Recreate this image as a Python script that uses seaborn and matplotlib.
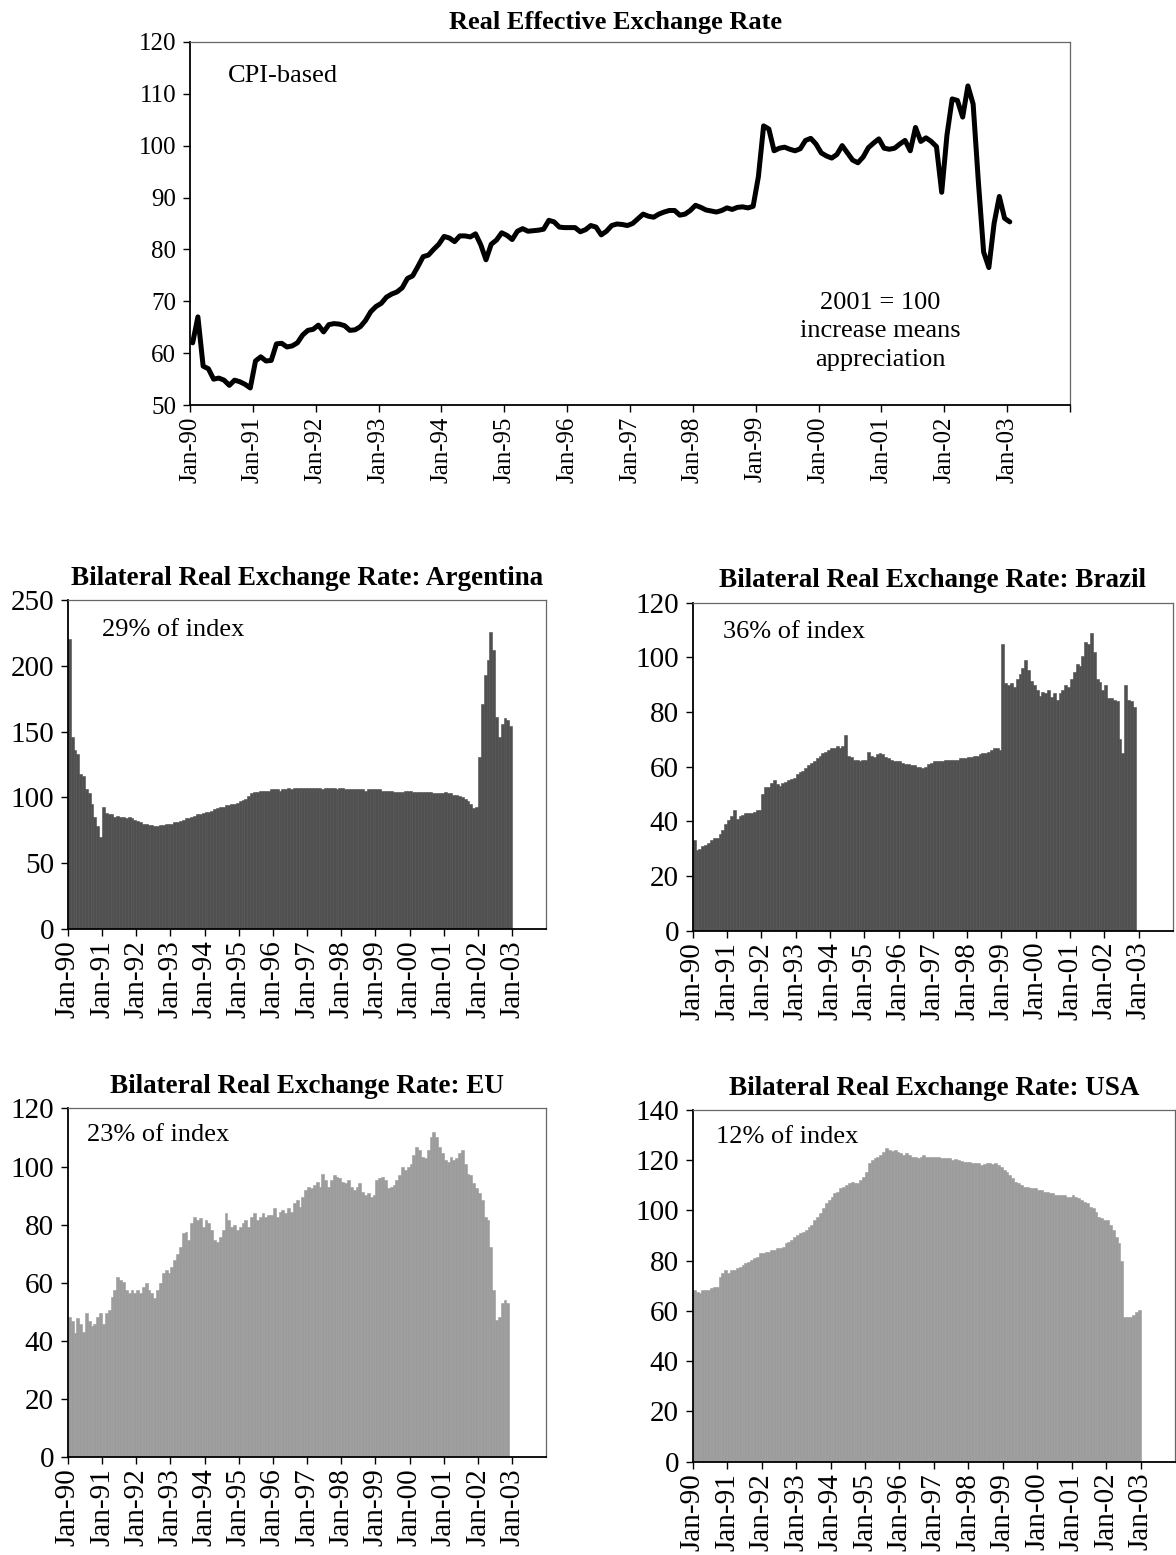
import numpy as np
import pandas as pd
import seaborn as sns
import matplotlib
matplotlib.use("Agg")
import matplotlib.pyplot as plt

# monthly data, Jan-90 onwards
reer = [62, 67, 57.5, 57, 55, 55.2, 54.8, 53.8, 54.8, 54.5, 54, 53.3,
        58.5, 59.3, 58.5, 58.6, 61.8, 61.9, 61.2, 61.4, 62, 63.5, 64.4, 64.6,
        65.4, 64.1, 65.5, 65.7, 65.6, 65.3, 64.4, 64.5, 65.1, 66.3, 68, 69,
        69.6, 70.8, 71.4, 71.8, 72.6, 74.4, 74.9, 76.7, 78.6, 78.9, 80, 81,
        82.5, 82.2, 81.5, 82.6, 82.6, 82.4, 83, 80.9, 78, 81, 81.8, 83.2,
        82.7, 81.9, 83.5, 84, 83.5, 83.6, 83.7, 83.9, 85.6, 85.3, 84.3, 84.2,
        84.2, 84.2, 83.4, 83.8, 84.6, 84.3, 82.8, 83.5, 84.6, 84.9, 84.8, 84.6,
        85, 85.9, 86.8, 86.4, 86.2, 86.8, 87.2, 87.5, 87.5, 86.6, 86.8, 87.5,
        88.5, 88.1, 87.6, 87.4, 87.2, 87.5, 88, 87.7, 88.1, 88.2, 88, 88.3,
        94, 103.8, 103.2, 99, 99.5, 99.7, 99.3, 99, 99.4, 101, 101.4, 100.3,
        98.6, 98, 97.6, 98.3, 100, 98.6, 97.2, 96.7, 97.8, 99.6, 100.5, 101.3,
        99.5, 99.3, 99.5, 100.3, 101, 99, 103.5, 100.8, 101.5, 100.8, 99.8, 91,
        102, 109, 108.7, 105.5, 111.5, 108, 93, 79.5, 76.5, 85, 90.2, 86,
        85.3]

argentina = [220, 146, 136, 133, 118, 116, 106, 103, 95, 85, 78, 70,
             93, 88, 87, 87, 85, 86, 85, 85, 84, 85, 84, 83,
             82, 81, 80, 80, 79, 79, 78, 78, 79, 79, 80, 80,
             80, 81, 81, 82, 83, 84, 84, 85, 86, 87, 87, 88,
             89, 89, 90, 91, 92, 93, 93, 94, 94, 95, 95, 96,
             97, 98, 99, 101, 103, 104, 104, 105, 105, 105, 105, 106,
             106, 106, 105, 106, 106, 107, 106, 107, 107, 107, 107, 107,
             107, 107, 107, 107, 107, 106, 107, 107, 107, 107, 106, 107,
             107, 106, 106, 106, 106, 106, 106, 106, 105, 106, 106, 106,
             106, 106, 105, 105, 105, 105, 104, 104, 104, 104, 105, 105,
             105, 104, 104, 104, 104, 104, 104, 104, 103, 103, 103, 103,
             104, 103, 103, 102, 102, 101, 100, 99, 97, 95, 92, 93,
             131, 171, 193, 204, 226, 212, 161, 146, 156, 160, 159, 154]

brazil = [33, 29.5, 30, 31, 31.5, 32, 33, 34, 34, 35.5, 37, 39,
          40.5, 42, 44, 41, 42, 42.5, 43, 43, 43, 43.5, 44, 44,
          50, 52.5, 52.5, 54, 55, 53.5, 53, 54, 54.5, 55, 55.5, 56,
          57.5, 58, 58.5, 59.5, 60.5, 61.5, 62, 63, 64, 65, 65.5, 66,
          67, 67, 67.5, 67, 67.5, 71.5, 64, 63.5, 62.5, 62.5, 62, 62.5,
          62.4, 65.5, 64, 63.5, 64.5, 65, 64.5, 63.5, 63, 62.5, 62, 62,
          62, 61.5, 61, 61, 60.5, 60.5, 60, 60, 59.5, 60, 61, 61.5,
          62, 62, 62, 62, 62.5, 62.5, 62.5, 62.5, 62.5, 63, 63, 63,
          63.5, 63.5, 64, 64, 64.5, 65, 65, 65.5, 66, 67, 67, 66,
          105, 90.5, 90, 90.5, 89, 92, 94, 96, 99, 95.5, 91.5, 90,
          88, 86, 87.5, 87, 88, 85.5, 87, 84.5, 87, 88, 90, 89,
          92, 94.5, 97.5, 97, 100.5, 105.5, 105, 109, 102, 92, 91, 88,
          90, 85, 85, 84.5, 84, 70, 65, 90, 84.5, 84, 82]

eu = [48.4, 47, 42.6, 47.8, 46, 43, 49.5, 47, 45, 46, 48.4, 49.5,
      46, 49.5, 50.7, 55, 57.5, 62, 61, 60.4, 57.5, 56.4, 57.5, 56.4,
      57.5, 56.4, 58.7, 59.8, 57.5, 56.4, 54.7, 57.5, 59.8, 63.3, 64.4, 63.3,
      65.6, 67.9, 70.1, 72.4, 77, 77.6, 74.7, 80.5, 82.7, 81.6, 82.2, 79.3,
      81.6, 80.5, 78.2, 74.7, 74.2, 75.9, 78.2, 83.9, 81.6, 79.3, 79.9, 78.2,
      79.3, 80.5, 81.6, 79.3, 82.7, 83.9, 81.6, 82.7, 83.9, 82.7, 83.3, 83.3,
      85.6, 82.7, 84.5, 85, 84, 85.6, 84.5, 87.3, 88.5, 86.2, 89.6, 91.9,
      93, 92.5, 93.6, 94.8, 93, 97.6, 95.4, 93, 95.4, 97, 96.5, 95.9,
      94.8, 94.2, 95.4, 93, 91.9, 93, 94.2, 91.3, 90.2, 90.8, 89.6, 90.2,
      95.4, 95.9, 96.5, 95.4, 92.5, 93, 93.6, 95.4, 97, 99.9, 98.8, 99.9,
      101, 104, 106.8, 105.7, 103.4, 102.8, 105.7, 110.3, 112, 110.3, 106.8, 104.5,
      102.2, 101.7, 103.4, 102.2, 102.8, 104.5, 105.7, 101, 97.6, 97, 94.2, 92.5,
      90.8, 88.5, 82.7, 81.6, 72.4, 57.5, 47.2, 48.4, 53, 54.1, 53]

usa = [68.3, 67.7, 67, 68.3, 68.3, 68.3, 69, 69.7, 69.7, 73.6, 75, 76.3,
       75, 76.3, 76.3, 77, 77.6, 78.3, 79, 79.6, 80.3, 81, 81.6, 83,
       83, 83.6, 83.6, 84.3, 84.3, 85, 85, 85.6, 86.9, 87.6, 88.2, 89.6,
       90.2, 90.9, 91.6, 92.2, 93.5, 94.2, 96.2, 97.5, 98.9, 100.8, 102.8, 104.2,
       105.5, 106.8, 107.5, 108.8, 109.5, 110.1, 110.8, 111.5, 110.8, 110.8, 112.1, 113.5,
       115.4, 118.8, 120.1, 120.8, 121.4, 122, 123.4, 124.7, 124, 123.8, 124, 123.4,
       122.7, 122, 122.7, 122, 121.4, 121.4, 120.8, 121.4, 122, 121.4, 121.4, 121.4,
       121.4, 121.4, 121, 120.8, 121, 120.8, 120.1, 120.4, 120.1, 119.8, 119.4, 119.4,
       119.4, 119, 118.8, 118.8, 118.1, 118.5, 118.8, 118.8, 118.5, 118.8, 118.1, 117.4,
       116.1, 115.4, 114.1, 112.8, 111.5, 110.8, 110.1, 109.5, 109.5, 108.8, 108.8, 108.8,
       108.1, 108.1, 107.5, 107.5, 106.8, 106.8, 106.2, 106.2, 106.2, 106.2, 105.5, 105.5,
       106.2, 105.5, 104.8, 104.2, 103.5, 102.8, 101.5, 100.8, 99.5, 97.5, 96.9, 96.2,
       96.2, 94.2, 92.2, 89.6, 86.9, 80, 57.7, 57.5, 57.7, 58.5, 59.5, 60.4]

year_labels = ["Jan-%02d" % (y % 100) for y in range(1990, 2004)]

sns.set_theme(style="ticks")
plt.rcParams["font.family"] = ["Liberation Serif", "DejaVu Serif"]
plt.rcParams["text.color"] = "black"
plt.rcParams["xtick.color"] = "black"
plt.rcParams["ytick.color"] = "black"
plt.rcParams["axes.labelcolor"] = "black"

fig = plt.figure(figsize=(11.76, 15.55), dpi=100)


def style_axes(ax, tick_size):
    for side in ["left", "bottom"]:
        ax.spines[side].set_color("black")
        ax.spines[side].set_linewidth(1.3)
    for side in ["top", "right"]:
        ax.spines[side].set_visible(True)
        ax.spines[side].set_color("#666666")
        ax.spines[side].set_linewidth(0.9)
    ax.tick_params(direction="out", length=5, width=1, colors="black", labelsize=tick_size)
    ax.tick_params(axis="x", pad=3)
    ax.tick_params(axis="y", pad=5)
    ax.set_xlabel("")
    ax.set_ylabel("")


# top panel: effective rate
ax = fig.add_axes([0.1616, 0.7395, 0.7483, 0.2336])
df = pd.DataFrame({"m": np.arange(len(reer)), "v": reer})
sns.lineplot(data=df, x="m", y="v", color="black", linewidth=3.6, ax=ax,
             solid_joinstyle="round", solid_capstyle="round")
ax.set_xlim(-0.5, 167.5)
ax.set_ylim(50, 120)
ax.set_yticks(range(50, 121, 10))
ax.set_xticks([-0.5 + 12 * k for k in range(15)])
ax.set_xticklabels(year_labels + [""], rotation=90)
style_axes(ax, 18)
ax.set_title("Real Effective Exchange Rate", fontsize=19, fontweight="bold",
             pad=9, x=0.483)
ax.text(0.0435, 0.907, "CPI-based", transform=ax.transAxes, fontsize=19,
        ha="left", va="center")
ax.text(0.784, 0.203, "2001 = 100\nincrease means\nappreciation", transform=ax.transAxes,
        fontsize=19, ha="center", va="center", linespacing=1.4)

# bilateral panels
panels = [
    ("Argentina", argentina, [0.0577, 0.4026, 0.4069, 0.2116], 250, 50, "29% of index", (0.071, 0.909), "#505050"),
    ("Brazil", brazil, [0.5891, 0.4015, 0.4083, 0.2109], 120, 20, "36% of index", (0.063, 0.912), "#505050"),
    ("EU", eu, [0.0577, 0.0628, 0.4069, 0.2244], 120, 20, "23% of index", (0.041, 0.923), "#9c9c9c"),
    ("USA", usa, [0.5891, 0.0600, 0.4100, 0.2262], 140, 20, "12% of index", (0.048, 0.924), "#9c9c9c"),
]

for name, vals, rect, ymax, step, note, pos, col in panels:
    ax = fig.add_axes(rect)
    d = pd.DataFrame({"m": np.arange(len(vals)), "v": vals})
    sns.barplot(data=d, x="m", y="v", native_scale=True, width=1, color=col,
                errorbar=None, edgecolor=col, linewidth=0.4, saturation=1, ax=ax)
    ax.set_xlim(-0.5, 167.5)
    ax.set_ylim(0, ymax)
    ax.set_yticks(range(0, ymax + 1, step))
    ax.set_xticks([-0.5 + 12 * k for k in range(14)])
    ax.set_xticklabels(year_labels, rotation=90)
    style_axes(ax, 21)
    ax.set_title("Bilateral Real Exchange Rate: " + name, fontsize=19.5,
                 fontweight="bold", pad=11)
    ax.text(pos[0], pos[1], note, transform=ax.transAxes, fontsize=19,
            ha="left", va="center")

fig.savefig("out.png", dpi=100, facecolor="white")
